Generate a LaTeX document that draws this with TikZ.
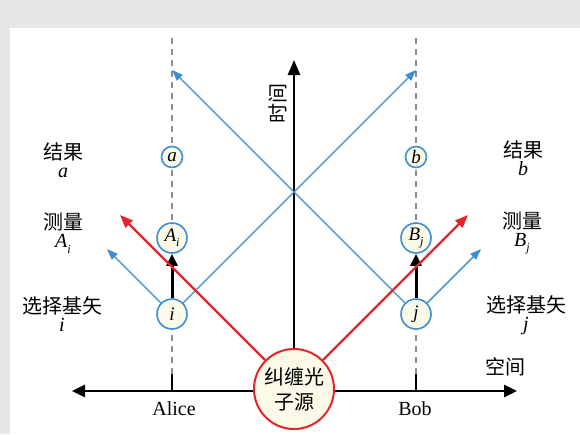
\documentclass[tikz,border=0pt]{standalone}
\usepackage{fontspec}
\setmainfont{Liberation Serif}
\newfontfamily\cjk{Noto Sans CJK SC}
\usetikzlibrary{arrows.meta}
\definecolor{bgray}{HTML}{E8E6E7}
\definecolor{myblue}{HTML}{3D8FD1}
\definecolor{myred}{HTML}{E3262C}
\definecolor{cream}{HTML}{FBF9E8}
\definecolor{dgray}{HTML}{8E8E8E}
\newcommand{\vi}[1]{\textit{#1}}
\newcommand{\vsub}[2]{\textit{#1}\raisebox{-0.28em}{\fontsize{12}{12}\selectfont\textit{#2}}}
\begin{document}
\begin{tikzpicture}[x=1pt,y=-1pt,
  evt/.style={circle,draw=myblue,line width=1.6pt,fill=cream,minimum size=30pt,inner sep=0pt,font=\fontsize{19}{20}\selectfont},
  res/.style={evt,minimum size=21pt},
  lab/.style={align=center,inner sep=0pt,font=\cjk\fontsize{20}{21}\selectfont},
  personlab/.style={inner sep=0pt,font=\fontsize{20}{22}\selectfont},
  dashline/.style={draw=dgray,line width=2.8pt,dash pattern=on 6pt off 5pt},
  axisline/.style={line width=2.6pt,black},
  blueray/.style={draw=myblue,line width=1.4pt,-{Triangle[length=11pt,width=8pt]}},
  redray/.style={draw=myred,line width=2.4pt,-{Triangle[length=13pt,width=10pt]}},
  measure/.style={line width=3pt,-{Triangle[length=12pt,width=11pt]}}
]
\useasboundingbox (0,0) rectangle (580,434);
\fill[bgray] (0,0) rectangle (580,434);
\fill[white] (10,28) rectangle (580,434);

% coordinates
\coordinate (aTop) at (172,38);
\coordinate (aBot) at (172,374);
\coordinate (bTop) at (416,38);
\coordinate (bBot) at (416,374);
\coordinate (aTick) at (172,391);
\coordinate (bTick) at (416,391);
\coordinate (axL) at (72,391);
\coordinate (axR) at (517,391);
\coordinate (tTop) at (294,60);
\coordinate (blueUL) at (107,249);
\coordinate (blueUR) at (481,249);
\coordinate (blueAL) at (172,70);
\coordinate (blueBR) at (416,70);
\coordinate (redL) at (120,215);
\coordinate (redR) at (468,215);

% dashed world lines
\draw[dashline] (aTop) -- (aBot);
\draw[dashline] (bTop) -- (bBot);

% space axis
\draw[axisline,{Triangle[length=13pt,width=12pt]}-{Triangle[length=13pt,width=12pt]}] (axL) -- (axR);
\draw[axisline] (aBot) -- (aTick);
\draw[axisline] (bBot) -- (bTick);

% nodes
\node[evt] (i) at (172,314) {\vi{i}};
\node[evt] (Ai) at (172,238) {\vsub{A}{i}};
\node[res] (a) at (172,157) {\vi{a}};
\node[evt] (j) at (416,314) {\vi{j}};
\node[evt] (Bj) at (416,238) {\vsub{B}{j}};
\node[res] (b) at (416,157) {\vi{b}};
\node[circle,draw=myred,line width=2pt,fill=cream,minimum size=80pt,inner sep=0pt,align=center,
      font=\cjk\fontsize{20}{25}\selectfont] (src) at (294,389) {纠缠光\\子源};

% time axis
\draw[axisline,-{Triangle[length=15pt,width=12pt]}] (src) -- (tTop);

% blue rays
\draw[blueray] (i) -- (blueUL);
\draw[blueray] (i) -- (blueBR);
\draw[blueray] (j) -- (blueUR);
\draw[blueray] (j) -- (blueAL);

% measurement arrows
\draw[measure] (i) -- (Ai);
\draw[measure] (j) -- (Bj);

% red rays
\draw[redray] (src) -- (redL);
\draw[redray] (src) -- (redR);

% labels
\node[lab] (labRa) at (63,160) {结果\\[-3pt]{\fontspec{Liberation Serif}\vi{a}}};
\node[lab] (labMa) at (63,233) {测量\\[-3pt]{\fontspec{Liberation Serif}\vsub{A}{i}}};
\node[lab] (labSa) at (62,314) {选择基矢\\[-3pt]{\fontspec{Liberation Serif}\vi{i}}};
\node[lab] (labRb) at (523,158) {结果\\[-3pt]{\fontspec{Liberation Serif}\vi{b}}};
\node[lab] (labMb) at (522,233) {测量\\[-3pt]{\fontspec{Liberation Serif}\vsub{B}{j}}};
\node[lab] (labSb) at (526,315) {选择基矢\\[-3pt]{\fontspec{Liberation Serif}\vi{j}}};
\node[lab] (space) at (505,367) {空间};
\node[lab,rotate=90] (time) at (278,103) {时间};
\node[personlab] (alice) at (174,409) {Alice};
\node[personlab] (bob) at (415,409) {Bob};
\end{tikzpicture}
\end{document}
